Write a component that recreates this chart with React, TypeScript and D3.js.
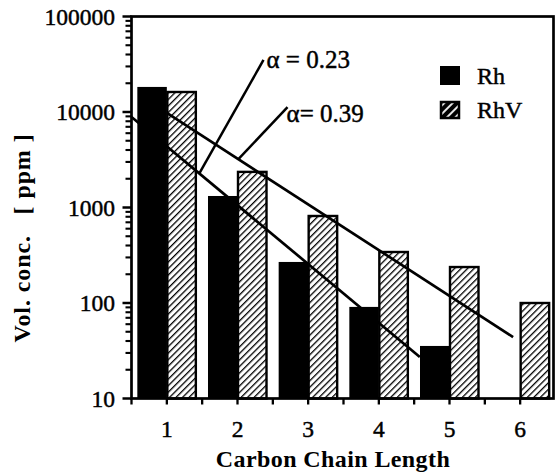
import React from "react";
import * as d3 from "d3";

// Carbon chain length categories and volume concentrations (ppm)
const categories = [1, 2, 3, 4, 5, 6];
const rhValues: (number | null)[] = [18300, 1320, 269, 91, 35.5, null];
const rhvValues: (number | null)[] = [16200, 2360, 815, 342, 238, 100];
const seriesNames = ["Rh", "RhV"];
const yTickValues = [10, 100, 1000, 10000, 100000];

// Fitted Schulz-Flory lines: [chain length, ppm] end points
const fitLabels = ["α = 0.23", "α= 0.39"];
const fitStarts: [number, number][] = [[0.5, 8870], [1.0, 9800]];
const fitEnds: [number, number][] = [[4.58, 27.2], [5.9, 44]];
// where each leader leaves its line (chain length) and where it ends [chain length, ppm]
const leaderFrom = [1.46, 2.013];
const leaderTo: [number, number][] = [[2.368, 35100], [2.708, 11270]];

const W = 555;
const H = 474;
const left = 131.5;
const right = 553.5;
const top = 16.5;
const bottom = 398.5;

const FONT = "'Liberation Serif', 'Times New Roman', serif";

export default function App() {
  const x = d3.scaleLinear().domain([0.5, 6.5]).range([left, 555.5]);
  const y = d3.scaleLog().domain([10, 100000]).range([bottom, top]);
  const barW = x(1.4175) - x(1);

  const minorY: number[] = [];
  for (let d = 10; d < 100000; d *= 10) {
    for (let k = 2; k <= 9; k++) minorY.push(d * k);
  }
  const xTicks: number[] = [];
  for (let t = 0.5; t <= 6.01; t += 0.5) xTicks.push(t);

  const lineAt = (i: number, n: number) => {
    const [n1, v1] = fitStarts[i];
    const [n2, v2] = fitEnds[i];
    const l = Math.log10(v1) + ((n - n1) / (n2 - n1)) * (Math.log10(v2) - Math.log10(v1));
    return Math.pow(10, l);
  };
  const labelOffsets = [
    { dx: 3, dy: 8 },
    { dx: -1, dy: 15 },
  ];
  const heavy = { stroke: "#000", strokeWidth: 0.45 };

  return (
    <svg
      width={W}
      height={H}
      style={{ position: "absolute", left: 0, top: 0, background: "#fff" }}
      fontFamily={FONT}
    >
      <defs>
        <pattern id="hatch" patternUnits="userSpaceOnUse" width={4.6} height={4.6} patternTransform="rotate(45)">
          <rect width={4.6} height={4.6} fill="#fff" />
          <line x1={0} y1={0} x2={0} y2={4.6} stroke="#000" strokeWidth={2.6} />
        </pattern>
        <pattern id="hatchLegend" patternUnits="userSpaceOnUse" width={6} height={6} patternTransform="rotate(45)">
          <rect width={6} height={6} fill="#000" />
          <line x1={3} y1={0} x2={3} y2={6} stroke="#fff" strokeWidth={1.8} />
        </pattern>
      </defs>

      {/* bars */}
      {categories.map((c, i) => {
        const a = rhValues[i];
        const b = rhvValues[i];
        return (
          <g key={c}>
            {a != null && (
              <rect x={x(c) - barW} y={y(a)} width={barW} height={bottom - y(a)} fill="#000" />
            )}
            {b != null && (
              <rect
                x={x(c) + 0.5}
                y={y(b)}
                width={barW - 1}
                height={bottom - y(b)}
                fill="url(#hatch)"
                stroke="#000"
                strokeWidth={2.4}
              />
            )}
          </g>
        );
      })}

      {/* fitted lines and leaders */}
      {fitLabels.map((lab, i) => {
        const s = fitStarts[i];
        const e = fitEnds[i];
        const ln = leaderFrom[i];
        const lt = leaderTo[i];
        return (
          <g key={lab}>
            <line x1={x(s[0])} y1={y(s[1])} x2={x(e[0])} y2={y(e[1])} stroke="#000" strokeWidth={2.7} />
            <line
              x1={x(ln)}
              y1={y(lineAt(i, ln))}
              x2={x(lt[0])}
              y2={y(lt[1])}
              stroke="#000"
              strokeWidth={2.5}
            />
            <text
              x={x(lt[0]) + labelOffsets[i].dx}
              y={y(lt[1]) + labelOffsets[i].dy}
              fontSize={25}
              fill="#000"
              {...heavy}
            >
              {lab}
            </text>
          </g>
        );
      })}

      {/* frame */}
      <rect x={left} y={top} width={right - left} height={bottom - top} fill="none" stroke="#000" strokeWidth={2.7} />

      {/* y axis ticks */}
      {yTickValues.map((v) => (
        <g key={v}>
          <line x1={left - 9} x2={left} y1={y(v)} y2={y(v)} stroke="#000" strokeWidth={2.5} />
          <text x={115} y={y(v) + 8} textAnchor="end" fontSize={23.5} fill="#000" {...heavy}>
            {v}
          </text>
        </g>
      ))}
      {minorY.map((v) => (
        <line key={v} x1={left - 6} x2={left} y1={y(v)} y2={y(v)} stroke="#000" strokeWidth={2.1} />
      ))}

      {/* x axis ticks */}
      {xTicks.map((t) => (
        <line key={t} x1={x(t)} x2={x(t)} y1={bottom} y2={bottom + 6} stroke="#000" strokeWidth={2.3} />
      ))}
      {categories.map((c) => (
        <text key={c} x={x(c)} y={437} textAnchor="middle" fontSize={23.5} fill="#000" {...heavy}>
          {c}
        </text>
      ))}

      {/* axis titles */}
      <text x={333} y={467} textAnchor="middle" fontSize={24} fontWeight="bold" fill="#000" letterSpacing={0.4}>
        Carbon Chain Length
      </text>
      <text
        transform="translate(30,238) rotate(-90)"
        textAnchor="middle"
        fontSize={24}
        fontWeight="bold"
        fill="#000"
        letterSpacing={0.9}
        style={{ whiteSpace: "pre" }}
      >
        {"Vol. conc.   [ ppm ]"}
      </text>

      {/* legend */}
      <rect x={440} y={66} width={20} height={19} fill="#000" />
      <rect x={441} y={102} width={18} height={16} fill="url(#hatchLegend)" stroke="#000" strokeWidth={2.5} />
      <text x={477} y={84} fontSize={24} fill="#000" {...heavy}>
        {seriesNames[0]}
      </text>
      <text x={477} y={118} fontSize={24} fill="#000" {...heavy}>
        {seriesNames[1]}
      </text>
    </svg>
  );
}
